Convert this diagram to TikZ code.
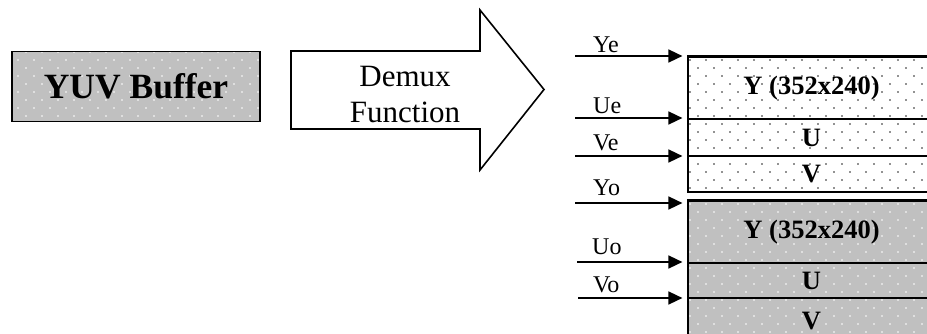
\documentclass[tikz,border=0pt]{standalone}
\usepackage{fontspec}
\setmainfont{Liberation Serif}
\usetikzlibrary{arrows.meta,patterns}

% staggered dot stipple (form only, colour given by "pattern color")
\pgfdeclarepatternformonly{stipple}{\pgfqpoint{-1pt}{-1pt}}{\pgfqpoint{17pt}{17pt}}{\pgfqpoint{16pt}{16pt}}{%
  \pgfpathcircle{\pgfqpoint{2pt}{2pt}}{0.8pt}%
  \pgfpathcircle{\pgfqpoint{10pt}{10pt}}{0.8pt}%
  \pgfusepath{fill}}

\definecolor{gry}{RGB}{192,192,192}

\begin{document}
\begin{tikzpicture}[x=1pt,y=-1pt,
  graybox/.style={preaction={fill=gry},pattern=stipple,pattern color=white,
                  draw=black,line width=1.6pt,inner sep=0pt},
  whitebox/.style={preaction={fill=white},pattern=stipple,pattern color=black!85,
                   draw=black,line width=1.2pt,inner sep=0pt},
  grayrow/.style={preaction={fill=gry},pattern=stipple,pattern color=white,
                  draw=black,line width=1.2pt,inner sep=0pt},
  rowtext/.style={font=\bfseries\fontsize{26.5}{30}\selectfont},
  lbl/.style={anchor=base west,inner sep=0pt,font=\fontsize{24}{28}\selectfont},
  feed/.style={line width=1.6pt,shorten >=5pt,-{Triangle[length=14pt,width=13pt]}}
]
\useasboundingbox (0,0) rectangle (927,334);
\clip (0,0) rectangle (927,334);

% source buffer
\node[graybox,minimum width=248pt,minimum height=70pt,
      font=\bfseries\fontsize{35.5}{40}\selectfont] (yuv) at (136,86.7) {YUV Buffer};

% block arrow
\draw[line width=1.6pt,fill=white]
  (291,51) -- (480,51) -- (480,10) -- (544,89.5) -- (480,170) -- (480,129) -- (291,129) -- cycle;
\node[align=center,inner sep=0pt,font=\fontsize{31}{36}\selectfont] (demux) at (405,94.6) {Demux\\Function};

% even field planes
\node[whitebox,rowtext,minimum width=247pt,minimum height=62pt] (ye) at (811.5,88) {Y (352x240)};
\node[whitebox,rowtext,minimum width=247pt,minimum height=37pt] (ue) at (811.5,137.5) {U};
\node[whitebox,rowtext,minimum width=247pt,minimum height=36pt] (ve) at (811.5,174) {V};
\draw[line width=1.8pt] (ye.north west) rectangle (ve.south east);

% odd field planes
\node[grayrow,rowtext,minimum width=247pt,minimum height=62pt] (yo) at (811.5,232) {Y (352x240)};
\node[grayrow,rowtext,minimum width=247pt,minimum height=35pt] (uo) at (811.5,280.5) {U};
\node[grayrow,rowtext,minimum width=247pt,minimum height=47pt] (vo) at (811.5,321.5) {V};
\draw[line width=1.8pt] (yo.north west) rectangle (vo.south east);

% plane pointers
\coordinate (sye) at (575,56);
\coordinate (sue) at (575,118);
\coordinate (sve) at (575,156);
\coordinate (syo) at (575,203);
\coordinate (suo) at (577,262);
\coordinate (svo) at (578,298);

\draw[feed] (sye) -- (sye -| ye.west);
\draw[feed] (sue) -- (sue -| ue.west);
\draw[feed] (sve) -- (sve -| ve.west);
\draw[feed] (syo) -- (syo -| yo.west);
\draw[feed] (suo) -- (suo -| uo.west);
\draw[feed] (svo) -- (svo -| vo.west);

\node[lbl] (lye) at (593,53) {Ye};
\node[lbl] (lue) at (593,114) {Ue};
\node[lbl] (lve) at (593,151) {Ve};
\node[lbl] (lyo) at (593,196) {Yo};
\node[lbl] (luo) at (592,254) {Uo};
\node[lbl] (lvo) at (593,292) {Vo};
\end{tikzpicture}
\end{document}
